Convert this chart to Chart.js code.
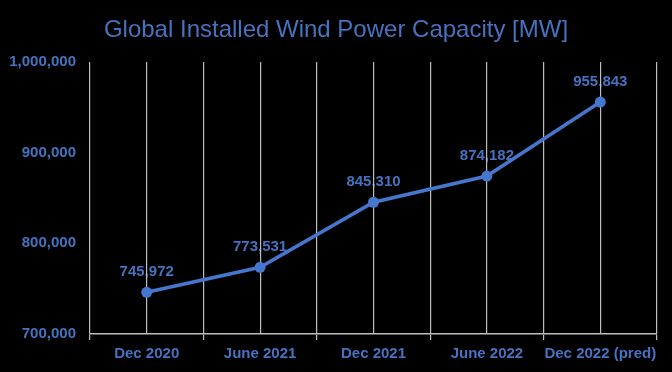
<!DOCTYPE html>
<html>
<head>
<meta charset="utf-8">
<script src="https://cdn.jsdelivr.net/npm/chart.js@4"></script>
<style>
  html, body { margin: 0; padding: 0; background: #000; }
  #wrap { width: 672px; height: 372px; }
</style>
</head>
<body>
<div id="wrap"><canvas id="wind"></canvas></div>
<script>
// values
const periods = ["Dec 2020", "June 2021", "Dec 2021", "June 2022", "Dec 2022 (pred)"];
const capacityMW = [745972, 773531, 845310, 874182, 955843];
const yTicks = [700000, 800000, 900000, 1000000];
const chartTitle = "Global Installed Wind Power Capacity [MW]";

const blueText = "#4672c0";
const blueLine = "#4677cf";
const gridGrey = "#bdbdbd";
const fontFam = "'Liberation Sans', Arial, sans-serif";

// title centred on the whole canvas + labels above each point
// (drawn before the grid so grid lines cross them, like the original)
const textLayer = {
  id: "textLayer",
  beforeDraw(chart) {
    const ctx = chart.ctx;
    const meta = chart.getDatasetMeta(0);
    ctx.save();
    ctx.textAlign = "center";
    ctx.textBaseline = "middle";
    ctx.fillStyle = blueText;
    ctx.font = "24px " + fontFam;
    ctx.fillText(chartTitle, chart.width / 2, 30);
    ctx.font = "bold 15px " + fontFam;
    meta.data.forEach((pt, i) => {
      ctx.fillText(capacityMW[i].toLocaleString("en-US"), pt.x, pt.y - 20);
    });
    ctx.restore();
  }
};

new Chart(document.querySelector("#wind"), {
  type: "line",
  data: {
    datasets: [{
      data: capacityMW.map((v, i) => ({ x: i, y: v })),
      borderColor: blueLine,
      backgroundColor: blueLine,
      borderWidth: 3.5,
      pointRadius: 5.5,
      pointHoverRadius: 5.5,
      pointBorderWidth: 0,
      tension: 0,
    }],
  },
  options: {
    responsive: true,
    maintainAspectRatio: false,
    animation: false,
    layout: { padding: { left: 0, right: 15, top: 62, bottom: 0 } },
    plugins: {
      legend: { display: false },
      tooltip: { enabled: false },
      title: { display: false },
    },
    scales: {
      x: {
        type: "linear",
        min: -0.5,
        max: 4.5,
        afterBuildTicks: (scale) => {
          const t = [];
          for (let v = -0.5; v <= 4.5; v += 0.5) t.push({ value: v });
          scale.ticks = t;
        },
        afterFit: (scale) => { scale.height = 38; },
        ticks: {
          autoSkip: false,
          maxRotation: 0,
          color: blueText,
          font: { family: fontFam, size: 15, weight: "bold" },
          padding: 5,
          callback: (v) => Number.isInteger(v) ? periods[v] : "",
        },
        grid: {
          color: gridGrey,
          lineWidth: 1.2,
          tickLength: 6,
          tickColor: (c) => Number.isInteger(c.tick.value) ? "transparent" : gridGrey,
        },
        border: { color: gridGrey, width: 1.5 },
      },
      y: {
        min: 700000,
        max: 1000000,
        afterBuildTicks: (scale) => { scale.ticks = yTicks.map(v => ({ value: v })); },
        afterFit: (scale) => { scale.width = 90; },
        ticks: {
          color: blueText,
          font: { family: fontFam, size: 15, weight: "bold" },
          padding: 6,
          callback: (v) => v.toLocaleString("en-US"),
        },
        grid: { display: false },
        border: { display: false },
      },
    },
  },
  plugins: [textLayer],
});
</script>
</body>
</html>
